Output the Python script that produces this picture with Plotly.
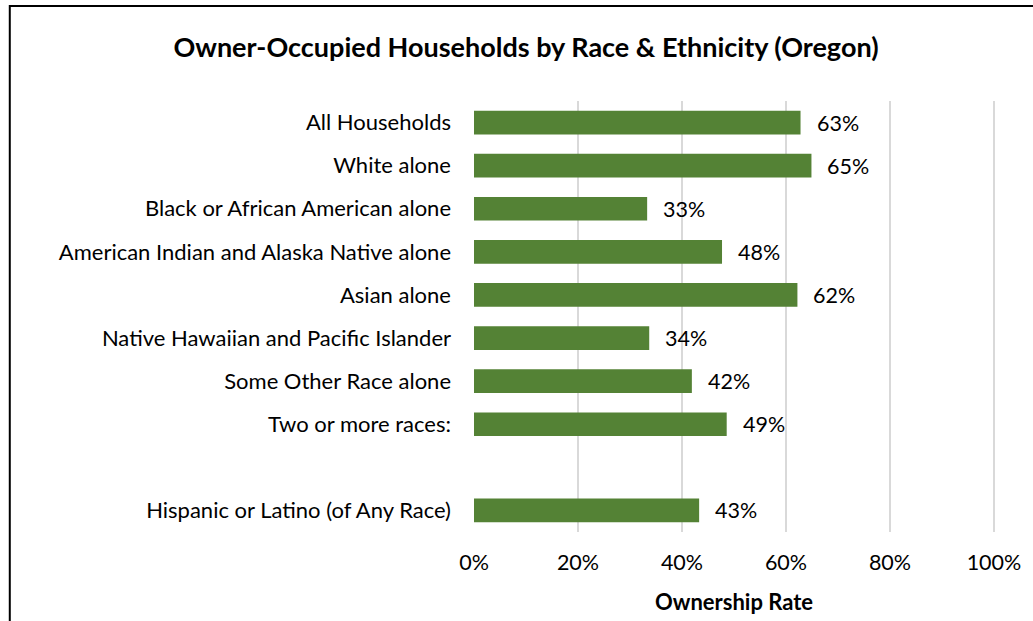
import plotly.graph_objects as go

categories = [
    "All Households",
    "White alone",
    "Black or African American alone",
    "American Indian and Alaska Native alone",
    "Asian alone",
    "Native Hawaiian and Pacific Islander",
    "Some Other Race alone",
    "Two or more races:",
    "Hispanic or Latino (of Any Race)",
]
ownership_rate = [0.628, 0.649, 0.333, 0.477, 0.622, 0.337, 0.419, 0.486, 0.433]
x_ticks = [0, 0.2, 0.4, 0.6, 0.8, 1.0]
x_tick_labels = ["0%", "20%", "40%", "60%", "80%", "100%"]

title_text = "Owner-Occupied Households by Race & Ethnicity (Oregon)"
x_title = "Ownership Rate"

FONT = "Lato, 'Open Sans', sans-serif"
GREEN = "#548235"
FS = 21.5

# spacer row between the race rows and the Hispanic row
spacer = " "
axis_order = categories[:-1] + [spacer] + categories[-1:]

W, H = 1033, 621
L, R, T, B = 474, 36, 101, 89
pw, ph = W - L - R, H - T - B

fig = go.Figure()
fig.add_trace(go.Bar(
    y=categories,
    x=ownership_rate,
    orientation="h",
    marker=dict(color=GREEN, line=dict(width=0)),
    width=0.55,
    hoverinfo="skip",
))

for c, v in zip(categories, ownership_rate):
    fig.add_annotation(
        x=v, y=c, xref="x", yref="y",
        text=f"{round(v * 100):.0f}%",
        showarrow=False, xanchor="left", yanchor="middle",
        xshift=14, font=dict(family=FONT, size=FS, color="#000000"),
    )

fig.add_annotation(
    x=(735 - L) / pw, y=(H - B - 601) / ph, xref="paper", yref="paper",
    text=f"<b>{x_title}</b>", showarrow=False,
    xanchor="center", yanchor="middle",
    font=dict(family=FONT, size=22, color="#000000"),
)

# clipped remnant of a title above the frame
fig.add_annotation(
    x=(768 - L) / pw, y=(H - B - 3) / ph, xref="paper", yref="paper",
    text="<b>(Oregon)</b>", showarrow=False,
    xanchor="center", yanchor="bottom",
    font=dict(family=FONT, size=27, color="#000000"),
)

# outer frame
fig.add_shape(
    type="rect", xref="paper", yref="paper",
    x0=(8 - L) / pw, x1=(W + 20 - L) / pw,
    y0=(H - B - (H + 20)) / ph, y1=(H - B - 6) / ph,
    line=dict(color="#000000", width=2), fillcolor="rgba(0,0,0,0)",
    layer="above",
)

fig.update_layout(
    width=W, height=H,
    margin=dict(l=L, r=R, t=T, b=B),
    paper_bgcolor="white", plot_bgcolor="white",
    showlegend=False,
    title=dict(
        text=f"<b>{title_text}</b>",
        x=526 / W, xref="container", xanchor="center",
        y=1 - 48 / H, yref="container", yanchor="middle",
        font=dict(family=FONT, size=27, color="#000000"),
    ),
    font=dict(family=FONT, color="#000000"),
)
fig.update_xaxes(
    range=[0, 1.002], tickvals=x_ticks, ticktext=x_tick_labels,
    showgrid=True, gridcolor="#d9d9d9", gridwidth=1.5,
    zeroline=False, showline=False,
    tickfont=dict(family=FONT, size=FS, color="#000000"),
    ticklabelstandoff=15, fixedrange=True,
)
fig.update_yaxes(
    categoryorder="array", categoryarray=axis_order,
    range=[len(axis_order) - 0.5, -0.5],
    showgrid=False, zeroline=False, showline=False,
    tickfont=dict(family=FONT, size=22, color="#000000"),
    ticklabelstandoff=22, fixedrange=True,
)

fig.write_html(
    "out.html",
    config={"displayModeBar": False, "staticPlot": True},
    post_script="document.body.style.margin='0';document.body.style.overflow='hidden';",
)
